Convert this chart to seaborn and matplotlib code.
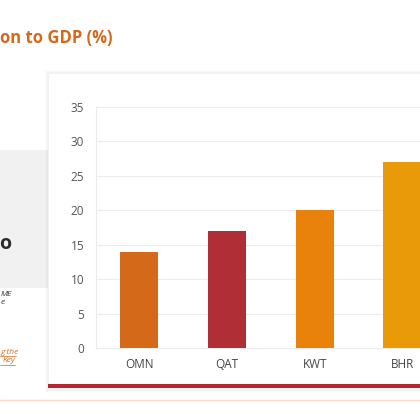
import matplotlib
matplotlib.use("Agg")
import matplotlib.pyplot as plt
from matplotlib.patches import Rectangle
from matplotlib.lines import Line2D
import seaborn as sns
import pandas as pd

categories = ["OMN", "QAT", "KWT", "BHR"]
values = [14, 17, 20, 27]
colors = ["#d4691a", "#b02e35", "#e9820a", "#e99a08"]
yticks = [0, 5, 10, 15, 20, 25, 30, 35]
title_text = "on to GDP (%)"

sns.set_theme(style="white")
plt.rcParams["font.family"] = ["Open Sans", "DejaVu Sans"]

W = H = 420
fig = plt.figure(figsize=(4.2, 4.2), dpi=100)
fig.patch.set_facecolor("white")

def fx(px):
    return px / W

def fy(py):
    return 1 - py / H

# left grey box
fig.patches.append(Rectangle((fx(0), fy(288)), fx(48), (288 - 150) / H,
                             transform=fig.transFigure, facecolor="#f1f1f1",
                             edgecolor="none", zorder=0))
# card shadow + card
for i, a in enumerate([0.025, 0.015, 0.01]):
    d = (i + 1)
    fig.patches.append(Rectangle((fx(48 - d), fy(390 + d)), fx(420 - 48 + 2 * d), (390 - 73 + 2 * d) / H,
                                 transform=fig.transFigure, facecolor="black", alpha=a,
                                 edgecolor="none", zorder=0.5))
fig.patches.append(Rectangle((fx(48), fy(388)), fx(420 - 48), (388 - 73) / H,
                             transform=fig.transFigure, facecolor="white",
                             edgecolor="#f0f0f0", linewidth=0.5, zorder=1))
# red bottom band
fig.patches.append(Rectangle((fx(48), fy(388)), fx(420 - 48), 4.5 / H,
                             transform=fig.transFigure, facecolor="#b3282f",
                             edgecolor="none", zorder=2))
# peach separator
fig.lines.append(Line2D([0, 1], [fy(400), fy(400)], transform=fig.transFigure,
                        color="#f6d9c6", linewidth=1.0, zorder=2))

# title
fig.text(fx(0), fy(38), title_text, color="#d4691a", fontsize=12,
         fontweight="bold", ha="left", va="center")
# big bold fragment in grey box
fig.text(fx(-1), fy(244), "o", color="#2b2b2b", fontsize=14,
         fontweight="bold", ha="left", va="center", zorder=3)
# small italic fragments
fig.text(fx(1), fy(295), "ME", color="#333333", fontsize=6, style="italic",
         ha="left", va="center")
fig.text(fx(1), fy(303), "e", color="#333333", fontsize=6, style="italic",
         ha="left", va="center")
fig.text(fx(0), fy(352), "g the", color="#d4691a", fontsize=6, style="italic",
         ha="left", va="center")
fig.text(fx(3), fy(361), "Key", color="#d4691a", fontsize=6, style="italic",
         ha="left", va="center")
for y0, x1 in [(356, 16), (365, 15)]:
    fig.lines.append(Line2D([0, fx(x1)], [fy(y0), fy(y0)], transform=fig.transFigure,
                            color="#d4691a", linewidth=0.5))

# axes: left 96px, top 107px (35), bottom 348px (0), right past edge
ax = fig.add_axes([fx(96), fy(348), fx(420 - 96), (348 - 107) / H])
ax.set_facecolor("white")
ax.patch.set_alpha(0)
df = pd.DataFrame({"cat": categories, "val": values})
sns.barplot(data=df, x="cat", y="val", hue="cat", palette=colors, width=0.435,
            legend=False, ax=ax, saturation=1, zorder=3)
ax.set_ylim(0, 35)
ax.set_xlim(-0.49, 3.2)
ax.set_yticks(yticks)
ax.set_yticklabels([str(t) for t in yticks], color="#555555", fontsize=8.5)
ax.tick_params(axis="y", length=0, pad=8.5)
ax.tick_params(axis="x", length=0, pad=7, labelsize=8.5, labelcolor="#444444")
ax.set_xlabel("")
ax.set_ylabel("")
for t in yticks[1:]:
    ax.axhline(t, color="#ececec", linewidth=0.8, zorder=1)
for s in ["top", "right"]:
    ax.spines[s].set_visible(False)
ax.spines["left"].set_color("#ececec")
ax.spines["left"].set_linewidth(0.8)
ax.spines["bottom"].set_color("#ececec")
ax.spines["bottom"].set_linewidth(0.8)
for p in ax.patches:
    p.set_edgecolor("none")
ax.set_zorder(3)

fig.savefig("out.png", dpi=100, facecolor="white")
